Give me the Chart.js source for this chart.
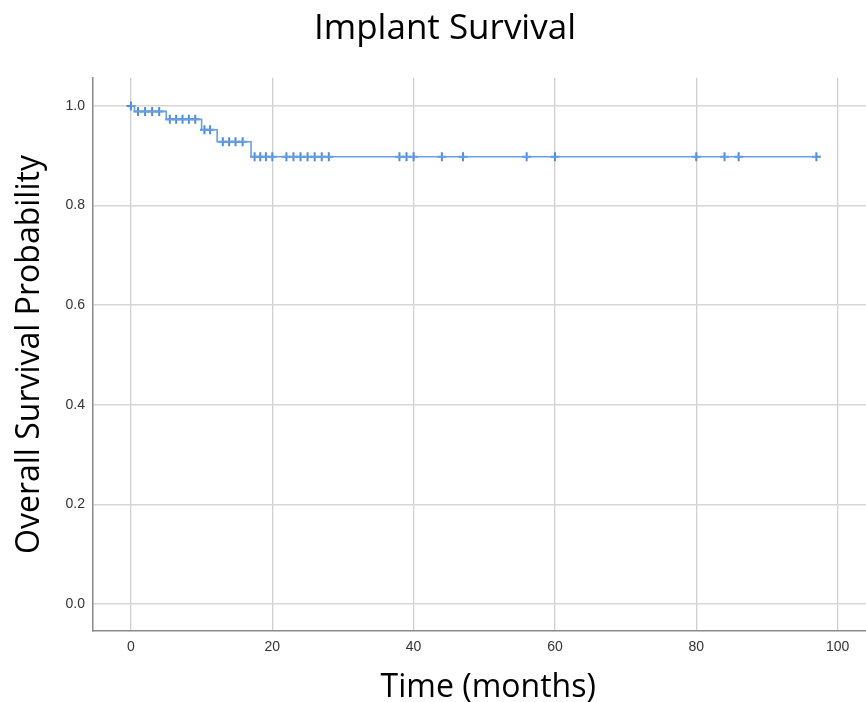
<!DOCTYPE html>
<html>
<head>
<meta charset="utf-8">
<title>Implant Survival</title>
<script src="https://cdn.jsdelivr.net/npm/chart.js@4/dist/chart.umd.min.js"></script>
<style>
  html, body { margin: 0; padding: 0; background: #fff; overflow: hidden; }
  canvas { display: block; }
</style>
</head>
<body>
<canvas id="kmChart" width="890" height="702"></canvas>
<script>
// Kaplan-Meier steps (time in months, survival after the drop)
const eventTimes = [0, 0.5, 5, 10, 12.2, 17];
const survival = [1.0, 0.989, 0.973, 0.952, 0.928, 0.898];
const lastTime = 97;

// censored observations (+ marks)
const censorTimes = [0, 1, 2, 3, 4, 5.5, 6.4, 7.3, 8.2, 9.1, 10.4, 11.2,
    13, 13.9, 14.8, 15.8, 17.5, 18.3, 19.1, 20, 22, 23, 24, 25, 26, 27, 28,
    38, 39, 40, 44, 47, 56, 60, 80, 84, 86, 97];

const xTicks = [0, 20, 40, 60, 80, 100];
const yTicks = [0.0, 0.2, 0.4, 0.6, 0.8, 1.0];

function survivalAt(t) {
    let s = survival[0];
    eventTimes.forEach((e, i) => { if (e <= t) s = survival[i]; });
    return s;
}

const stepPoints = eventTimes.map((t, i) => ({ x: t, y: survival[i] }));
stepPoints.push({ x: lastTime, y: survival[survival.length - 1] });
const censorPoints = censorTimes.map(t => ({ x: t, y: survivalAt(t) }));

const tickFont = { family: "'Liberation Sans', Arial, sans-serif", size: 14 };
const titleFamily = "'Open Sans', sans-serif";

new Chart(document.getElementById("kmChart").getContext("2d"), {
    type: "line",
    data: {
        datasets: [
            {
                label: "Survival",
                data: stepPoints,
                stepped: true,
                borderColor: "#6a9fe0",
                borderWidth: 1.6,
                pointRadius: 0,
                fill: false
            },
            {
                label: "Censored",
                data: censorPoints,
                showLine: false,
                pointStyle: "cross",
                pointRadius: 4.5,
                borderColor: "#4f8be0",
                borderWidth: 2
            }
        ]
    },
    options: {
        responsive: false,
        animation: false,
        plugins: {
            legend: { display: false },
            tooltip: { enabled: false },
            title: {
                display: true,
                text: "Implant Survival",
                color: "#000",
                font: { family: titleFamily, size: 35, weight: "normal", lineHeight: 1.2 },
                padding: { top: 8, bottom: 28 }
            }
        },
        scales: {
            x: {
                type: "linear",
                min: -5.37,
                max: 106.5,
                afterBuildTicks: s => { s.ticks = xTicks.map(v => ({ value: v })); },
                afterFit: s => { s.height = 71; },
                ticks: { font: tickFont, color: "#333", padding: 8, maxRotation: 0 },
                grid: { color: "#cfcfcf", lineWidth: 1.3, drawTicks: false },
                border: { color: "#8a8a8a", width: 1.5 },
                title: {
                    display: true,
                    text: "Time (months)",
                    color: "#000",
                    font: { family: titleFamily, size: 32, lineHeight: 1.0 },
                    padding: { top: 0, bottom: -2 }
                }
            },
            y: {
                type: "linear",
                min: -0.054,
                max: 1.056,
                afterBuildTicks: s => { s.ticks = yTicks.map(v => ({ value: v })); },
                afterFit: s => { s.width = 93; },
                ticks: { font: tickFont, color: "#333", padding: 8, callback: v => v.toFixed(1) },
                grid: { color: "#d6d6d6", lineWidth: 1.5, drawTicks: false },
                border: { color: "#8a8a8a", width: 1.5 },
                title: {
                    display: true,
                    text: "Overall Survival Probability",
                    color: "#000",
                    font: { family: titleFamily, size: 32, lineHeight: 1.2 },
                    padding: { top: 11, bottom: 0 }
                }
            }
        }
    }
});
</script>
</body>
</html>
